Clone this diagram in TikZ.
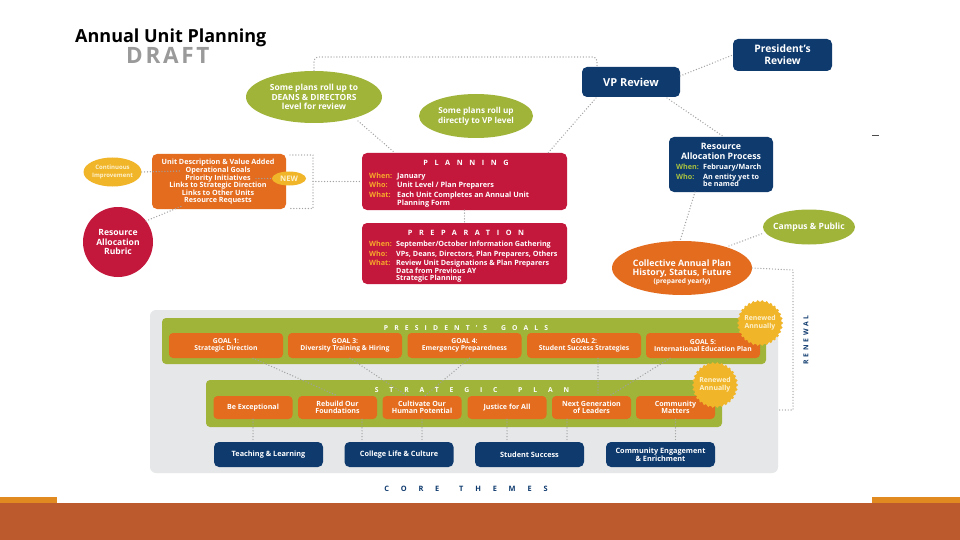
\documentclass[tikz,border=0pt]{standalone}
\usepackage{fontspec}
\setmainfont{Open Sans}
\newfontfamily\spA[LetterSpace=90]{Open Sans}
\newfontfamily\spB[LetterSpace=160]{Open Sans}
\newfontfamily\spC[LetterSpace=40]{Open Sans}
\newfontfamily\spD[LetterSpace=12]{Open Sans}
\usetikzlibrary{shapes.geometric,calc}
\definecolor{olive}{HTML}{A0B43A}
\definecolor{uorange}{HTML}{E36C1F}
\definecolor{crim}{HTML}{C4173C}
\definecolor{navy}{HTML}{0E3A6E}
\definecolor{yel}{HTML}{F1B52A}
\definecolor{goldlbl}{HTML}{F6A72B}
\definecolor{grnlbl}{HTML}{A9C23F}
\definecolor{bggray}{HTML}{E6E7E8}
\definecolor{rust}{HTML}{BC5A2D}
\definecolor{striporange}{HTML}{E08A1F}
\definecolor{dotgray}{HTML}{A2A2A2}
\definecolor{draftgray}{HTML}{9A9A9A}
\definecolor{cream}{HTML}{FDF1CC}
\tikzset{
  dotline/.style={draw=dotgray, line width=1.4pt, dash pattern=on 0pt off 2.9pt, line cap=round},
  rbox/.style={rectangle, rounded corners=#1, inner sep=0pt},
  rbox/.default=4pt,
  wtxt/.style={text=white, inner sep=0pt, align=center},
  lbl/.style={anchor=base west, inner sep=0pt, font=\bfseries\fontsize{7.3}{8}\selectfont},
  rlbl/.style={anchor=base west, inner sep=0pt, font=\bfseries\fontsize{7.2}{8}\selectfont},
  goalbox/.style={rbox, fill=uorange, minimum width=114, minimum height=25, text=white, align=center, font=\bfseries\fontsize{6.8}{7.6}\selectfont},
  spbox/.style={rbox, fill=uorange, minimum width=79, minimum height=23, text=white, align=center, font=\bfseries\fontsize{7.1}{7.6}\selectfont},
  corebox/.style={rbox=5pt, fill=navy, minimum width=109, minimum height=25, text=white, align=center, font=\bfseries\fontsize{7.3}{7.6}\selectfont},
}
\begin{document}
\begin{tikzpicture}[x=1pt,y=-1pt]
\path[use as bounding box, fill=white] (0,0) rectangle (960,540);

% title
\node[anchor=base west, inner sep=0pt, font=\bfseries\fontsize{18}{20}\selectfont] (title) at (75,43) {Annual Unit Planning};
\node[anchor=base west, inner sep=0pt, text=draftgray, font=\spD\bfseries\fontsize{22.5}{24}\selectfont] (draft) at (126,63.5) {DRAFT};

% small mark
\draw[black!70, line width=0.6pt] (872,135) -- (879,135);

% top ellipses
\node[ellipse, fill=olive, minimum width=136, minimum height=52, inner sep=0pt] (deans) at (314,97) {};
\node[wtxt, font=\bfseries\fontsize{8.4}{9.6}\selectfont] at (deans) {Some plans roll up to\\DEANS \& DIRECTORS\\level for review};
\node[ellipse, fill=olive, minimum width=114, minimum height=44, inner sep=0pt] (direct) at (476,116) {};
\node[wtxt, font=\bfseries\fontsize{8.2}{9.8}\selectfont] at (direct) {Some plans roll up\\directly to VP level};

% navy review boxes
\node[rbox=5pt, fill=navy, minimum width=98, minimum height=30, text=white, font=\bfseries\fontsize{11}{12}\selectfont] (vp) at (631,82) {VP Review};
\node[rbox=5pt, fill=navy, minimum width=99, minimum height=32, text=white, align=center, font=\bfseries\fontsize{10.3}{11.8}\selectfont] (pres) at (782.5,55) {President’s\\Review};

% resource allocation process
\node[rbox=5pt, fill=navy, minimum width=104, minimum height=55] (rap) at (721,164.5) {};
\node[anchor=base, text=white, inner sep=0pt, font=\bfseries\fontsize{8.8}{9}\selectfont] (rapt1) at (721,150) {Resource};
\node[anchor=base, text=white, inner sep=0pt, font=\bfseries\fontsize{8.8}{9}\selectfont] (rapt2) at (721,159.3) {Allocation Process};
\node[lbl, text=grnlbl, font=\bfseries\fontsize{7.2}{7}\selectfont] (rapw) at (676,169.8) {When:};
\node[lbl, text=white, font=\bfseries\fontsize{7.2}{7}\selectfont] (rapwv) at (703,169.8) {February/March};
\node[lbl, font=\bfseries\fontsize{7.2}{7}\selectfont, text=grnlbl] (rapo) at (676,179.3) {Who:};
\node[lbl, text=white, font=\bfseries\fontsize{7.2}{7}\selectfont] (rapov) at (703,179.3) {An entity yet to};
\node[lbl, text=white, font=\bfseries\fontsize{7.2}{7}\selectfont] (rapov2) at (703,186.8) {be named};

% collective annual plan
\node[ellipse, fill=uorange, minimum width=140, minimum height=54, inner sep=0pt] (coll) at (682,268) {};
\node[anchor=base, text=white, inner sep=0pt, font=\bfseries\fontsize{8.8}{9}\selectfont] (coll1) at (682,266) {Collective Annual Plan};
\node[anchor=base, text=white, inner sep=0pt, font=\bfseries\fontsize{8.8}{9}\selectfont] (coll2) at (682,275.3) {History, Status, Future};
\node[anchor=base, text=white, inner sep=0pt, font=\bfseries\fontsize{6.6}{7}\selectfont] (coll3) at (682,283.5) {(prepared yearly)};

\node[ellipse, fill=olive, minimum width=92, minimum height=35, inner sep=0pt] (campus) at (809,227) {};
\node[wtxt, font=\bfseries\fontsize{8.6}{9}\selectfont] at (campus) {Campus \& Public};

% planning box
\node[rbox=5pt, fill=crim, minimum width=205, minimum height=57] (plan) at (464.5,181.5) {};
\node[anchor=base, text=white, inner sep=0pt, font=\spA\bfseries\fontsize{7.3}{9}\selectfont] (plant) at (466,166) {PLANNING};
\node[lbl, text=goldlbl] (pw) at (369,178.3) {When:};
\node[lbl, text=white] (pwv) at (397,178.3) {January};
\node[lbl, text=goldlbl] (po) at (369,187.8) {Who:};
\node[lbl, text=white] (pov) at (397,187.8) {Unit Level / Plan Preparers};
\node[lbl, text=goldlbl] (pa) at (369,197.3) {What:};
\node[lbl, text=white] (pav) at (397,197.3) {Each Unit Completes an Annual Unit};
\node[lbl, text=white] (pav2) at (397,205.3) {Planning Form};

% preparation box
\node[rbox=5pt, fill=crim, minimum width=205, minimum height=61] (prep) at (464.5,253.5) {};
\node[anchor=base, text=white, inner sep=0pt, font=\spA\bfseries\fontsize{7.3}{9}\selectfont] (prept) at (466,235) {PREPARATION};
\node[rlbl, text=goldlbl] (rw) at (369,246.8) {When:};
\node[rlbl, text=white] (rwv) at (396,246.8) {September/October Information Gathering};
\node[rlbl, text=goldlbl] (ro) at (369,256.3) {Who:};
\node[rlbl, text=white] (rov) at (396,256.3) {VPs, Deans, Directors, Plan Preparers, Others};
\node[rlbl, text=goldlbl] (ra) at (369,265.8) {What:};
\node[rlbl, text=white] (rav) at (396,265.8) {Review Unit Designations \& Plan Preparers};
\node[rlbl, text=white] (rav2) at (396,273.3) {Data from Previous AY};
\node[rlbl, text=white] (rav3) at (396,280.8) {Strategic Planning};

% unit description box
\node[rbox=5pt, fill=uorange, minimum width=134, minimum height=55] (unit) at (219,181.5) {};
\node[wtxt, font=\bfseries\fontsize{7.2}{7.6}\selectfont] (unitt) at (218,182) {Unit Description \& Value Added\\Operational Goals\\Priority Initiatives\\Links to Strategic Direction\\Links to Other Units\\Resource Requests};

% continuous improvement
\node[ellipse, fill=yel, minimum width=58, minimum height=29, inner sep=0pt] (cont) at (112.5,172) {};
\node[wtxt, text=cream, font=\bfseries\fontsize{6}{7.2}\selectfont] at (cont) {Continuous\\Improvement};
% NEW
\node[ellipse, fill=yel, minimum width=34, minimum height=14, inner sep=0pt] (new) at (289,178.5) {};
\node[wtxt, text=cream, font=\bfseries\fontsize{7.6}{8}\selectfont] at (new) {NEW};
% rubric
\node[circle, fill=crim, minimum size=70, inner sep=0pt] (rubric) at (118,242) {};
\node[wtxt, font=\bfseries\fontsize{8.6}{9.8}\selectfont] at (rubric) {Resource\\Allocation\\Rubric};

% connectors upper area
\coordinate (loopa) at (316,57);
\coordinate (loopb) at (597,57);
\draw[dotline, rounded corners=4pt] (deans.north) -- (deans.north|-loopa) -- (loopb) -- (vp.north-|loopb);
\draw[dotline] (vp.east) ++(0,-6) coordinate (vpe) (vpe) -- (pres.west);
\coordinate (vpbl) at (596,98);
\coordinate (plantr) at (548,153);
\draw[dotline] (vpbl) -- (plantr);
\coordinate (vpbr) at (667,98);
\coordinate (raptl) at (724,137);
\draw[dotline] (vpbr) -- (raptl);
\coordinate (rapb) at (695,192);
\coordinate (collt) at (680,241);
\draw[dotline] (rapb) -- (collt);
\coordinate (collne) at (729,246);
\coordinate (campsw) at (764,233);
\draw[dotline] (collne) -- (campsw);
\coordinate (deanse) at (358,121);
\coordinate (plantl) at (395,153);
\draw[dotline] (deanse) -- (plantl);
\draw[dotline] (plan.south) -- (prep.north);

% bracket and left connectors
\coordinate (brtop) at (290,155);
\coordinate (brtr) at (313,155);
\coordinate (brbr) at (313,208.5);
\coordinate (brbot) at (290,208.5);
\coordinate (brmid) at (313,181.5);
\draw[dotline] (brtop) -- (brtr) -- (brbr) -- (brbot);
\draw[dotline] (brmid) -- (plan.west);
\coordinate (contend) at (181,171);
\draw[dotline] (cont.east) -- (contend);
\coordinate (newstart) at (256,178.5);
\draw[dotline] (newstart) -- (new.west);
\coordinate (rubs) at (146,221);
\coordinate (rube) at (182,206);
\draw[dotline] (rubs) -- (rube);

% renewal
\coordinate (renA) at (793,270);
\coordinate (renB) at (793,410);
\coordinate (renC) at (779,410);
\draw[dotline] (coll.east) -- (renA) -- (renB) -- (renC);
\node[rotate=90, text=navy, inner sep=0pt, font=\spC\bfseries\fontsize{6.8}{8}\selectfont] (renewal) at (806,340) {RENEWAL};

% lower gray panel
\node[rbox=6pt, fill=bggray, minimum width=628, minimum height=163] (bg) at (464,391.5) {};
\node[rbox=4pt, fill=olive, minimum width=604, minimum height=46] (goalsbar) at (464,341) {};
\node[anchor=base, text=white, inner sep=0pt, font=\spA\bfseries\fontsize{6.8}{8}\selectfont] (goalst) at (466,330.5) {PRESIDENT’S\hspace{6pt} GOALS};
\node[goalbox] (g1) at (226,345.5) {GOAL 1:\\Strategic Direction};
\node[goalbox] (g3) at (345,345.5) {GOAL 3:\\Diversity Training \& Hiring};
\node[goalbox] (g4) at (464.5,345.5) {GOAL 4:\\Emergency Preparedness};
\node[goalbox] (g2) at (584,345.5) {GOAL 2:\\Student Success Strategies};
\node[goalbox] (g5) at (703,345.5) {GOAL 5:\\International Education Plan};

\node[rbox=4pt, fill=olive, minimum width=516, minimum height=47] (spbar) at (464,403.5) {};
\node[anchor=base, text=white, inner sep=0pt, font=\spB\bfseries\fontsize{6.8}{8}\selectfont] (spt) at (472,392.5) {STRATEGIC\hspace{8pt} PLAN};
\node[spbox] (s1) at (253,407.5) {Be Exceptional};
\node[spbox] (s2) at (337.5,407.5) {Rebuild Our\\Foundations};
\node[spbox] (s3) at (422,407.5) {Cultivate Our\\Human Potential};
\node[spbox] (s4) at (507,407.5) {Justice for All};
\node[spbox] (s5) at (591.5,407.5) {Next Generation\\of Leaders};
\node[spbox] (s6) at (675.5,407.5) {Community\\Matters};

\node[corebox] (c1) at (268.5,454.5) {Teaching \& Learning};
\node[corebox] (c2) at (399,454.5) {College Life \& Culture};
\node[corebox] (c3) at (529.5,454.5) {Student Success};
\node[corebox] (c4) at (660.5,454.5) {Community Engagement\\\& Enrichment};

% goals -> strategic
\draw[dotline] ([xshift=27pt]g1.south) -- (s2.north);
\draw[dotline] ([xshift=5pt]g3.south) -- ([xshift=-15pt]s3.north);
\draw[dotline] ([xshift=5pt]g4.south) -- ([xshift=3pt]s3.north);
\draw[dotline] ([xshift=14pt]g2.south) -- ([xshift=6.5pt]s5.north);
\draw[dotline] ([xshift=-33pt]g5.south) -- ([xshift=18pt]s5.north);

% strategic -> core
\draw[dotline] (s1.south) -- (s1.south|-c1.north);
\draw[dotline] ([xshift=24.5pt]s2.south) -- ([xshift=24.5pt]s2.south|-c2.north);
\draw[dotline] (s3.south) -- (s3.south|-c2.north);
\draw[dotline] (s4.south) -- (s4.south|-c3.north);
\draw[dotline] ([xshift=-24.5pt]s5.south) -- ([xshift=-24.5pt]s5.south|-c3.north);
\draw[dotline] (s6.south) -- (s6.south|-c4.north);

% renewed annually badges
\foreach \cx/\cy in {760/323, 715/385} {
  \fill[yel] (\cx,\cy) circle (21.5pt);
  \foreach \a in {0,12,...,348} \fill[yel] (\cx,\cy) ++(\a:21.5) circle (1.5pt);
}
\node[wtxt, text=cream, font=\bfseries\fontsize{6.9}{8}\selectfont] (ren1) at (760,323) {Renewed\\Annually};
\node[wtxt, text=cream, font=\bfseries\fontsize{6.9}{8}\selectfont] (ren2) at (715,385) {Renewed\\Annually};

% core themes label
\node[anchor=base, text=navy, inner sep=0pt, font=\spB\bfseries\fontsize{7.4}{9}\selectfont] (coret) at (466,491) {CORE\hspace{6pt} THEMES};

% bottom band
\fill[rust] (0,503) rectangle (960,540);
\fill[striporange] (0,497) rectangle (57,503);
\fill[striporange] (872,497) rectangle (960,503);
\end{tikzpicture}
\end{document}
